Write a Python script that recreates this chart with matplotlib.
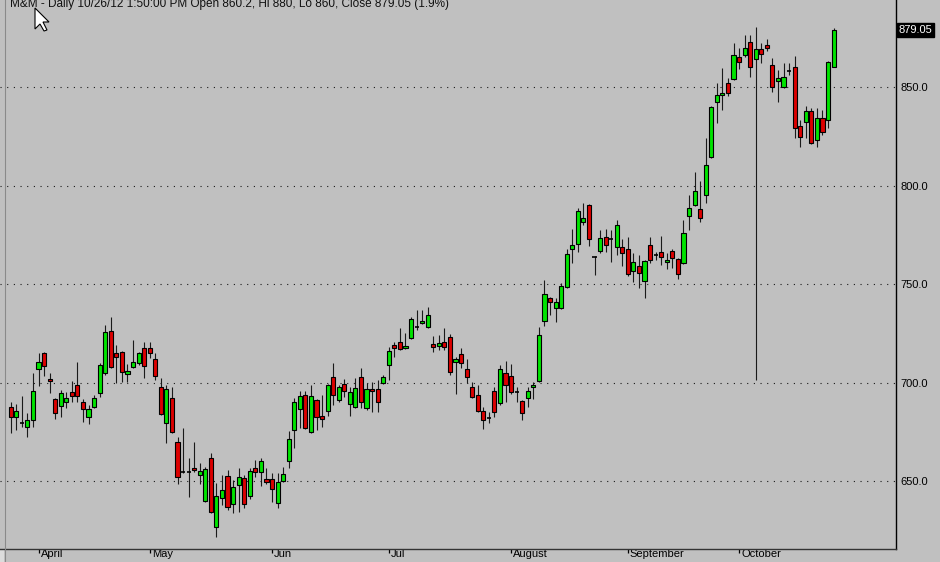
import matplotlib
matplotlib.use('Agg')
import matplotlib.pyplot as plt
import matplotlib.transforms as mtransforms
from matplotlib.patches import Polygon, Rectangle
import numpy as np

# ---------------- data (M&M daily, late Mar - 26 Oct 2012) ----------------
opens = [687.6, 682.5, 679.6, 677.5, 681.0, 706.9, 715.0, 701.8, 691.7, 688.1,
         690.1, 695.2, 698.8, 690.1, 682.5, 687.6, 694.7, 704.9, 726.2, 715.0,
         715.5, 704.4, 707.9, 709.9, 717.6, 717.6, 712.0, 697.8, 679.5, 692.2,
         669.8, 654.7, 654.6, 656.6, 653.1, 639.9, 661.7, 626.7, 641.4, 652.6,
         638.4, 648.0, 651.6, 642.4, 656.6, 654.6, 651.1, 651.1, 638.9, 650.0,
         660.2, 675.9, 686.6, 693.7, 674.9, 691.2, 683.0, 685.6, 702.8, 691.2,
         699.3, 689.1, 687.6, 702.8, 687.1, 696.7, 696.7, 699.8, 708.9, 719.1,
         720.6, 717.6, 722.6, 728.3, 730.2, 728.2, 719.6, 718.6, 720.6, 723.1,
         710.4, 714.5, 706.9, 697.8, 693.7, 685.6, 682.0, 695.7, 689.6, 704.9,
         703.3, 695.3, 690.6, 692.2, 697.8, 700.8, 731.3, 742.9, 737.9, 737.9,
         748.5, 767.8, 770.3, 781.5, 790.2, 763.8, 766.8, 773.9, 772.9, 768.8,
         768.8, 767.8, 756.6, 759.2, 751.6, 769.8, 764.8, 766.3, 761.2, 766.8,
         762.7, 760.7, 784.5, 790.2, 788.1, 795.2, 814.5, 842.4, 846.0, 852.1,
         854.1, 865.3, 866.3, 872.9, 864.2, 869.3, 871.4, 861.2, 853.1, 850.0,
         858.2, 860.2, 830.2, 832.3, 837.9, 823.1, 834.3, 833.3, 860.2]
highs = [690.0, 689.1, 693.2, 684.6, 704.9, 715.0, 715.5, 704.9, 692.2, 696.2,
         695.2, 700.8, 710.4, 691.7, 688.6, 693.7, 709.9, 729.2, 733.3, 719.1,
         716.0, 709.4, 721.6, 715.5, 720.6, 720.6, 715.0, 702.3, 698.8, 697.8,
         672.4, 676.9, 661.7, 669.8, 659.2, 657.1, 664.3, 649.0, 653.1, 655.6,
         650.6, 656.6, 653.1, 656.6, 660.7, 661.7, 656.6, 654.1, 654.1, 657.1,
         675.4, 692.2, 695.7, 695.7, 698.8, 691.7, 693.7, 699.3, 709.9, 698.8,
         701.8, 697.8, 702.3, 707.4, 699.8, 700.3, 701.3, 703.9, 718.1, 720.6,
         727.7, 725.2, 733.3, 736.8, 736.8, 738.4, 723.6, 724.2, 727.7, 724.7,
         713.0, 717.6, 712.0, 700.3, 698.8, 687.6, 685.1, 697.8, 708.9, 711.0,
         709.4, 697.8, 691.0, 697.8, 700.3, 728.2, 752.1, 743.4, 742.9, 750.5,
         767.8, 777.9, 788.6, 791.2, 790.7, 764.2, 777.4, 777.9, 777.4, 782.5,
         772.9, 773.9, 765.8, 764.8, 762.2, 773.9, 766.3, 774.4, 765.8, 767.8,
         763.2, 782.5, 795.2, 806.9, 802.3, 824.1, 840.4, 852.1, 859.7, 854.6,
         872.4, 869.8, 876.4, 876.4, 880.5, 872.4, 874.4, 864.8, 858.7, 862.2,
         862.2, 865.8, 833.3, 840.4, 839.4, 839.4, 838.4, 863.2, 880.0]
lows = [674.4, 675.9, 677.5, 672.4, 677.5, 698.3, 703.3, 694.7, 681.5, 682.5,
        687.1, 690.1, 690.1, 680.0, 679.0, 687.1, 692.7, 703.9, 707.4, 699.8,
        700.3, 700.3, 707.4, 708.9, 702.3, 712.5, 701.3, 683.6, 669.3, 674.4,
        648.5, 654.1, 641.9, 654.6, 648.5, 639.4, 633.8, 621.6, 637.9, 635.3,
        633.8, 634.3, 636.3, 640.9, 652.1, 647.5, 648.5, 639.4, 636.3, 649.5,
        656.6, 666.8, 676.9, 676.4, 674.4, 675.9, 677.5, 683.0, 688.6, 690.1,
        692.7, 683.0, 687.1, 687.1, 686.1, 685.1, 685.1, 699.3, 701.3, 713.0,
        716.6, 717.1, 722.1, 726.7, 729.7, 727.7, 715.5, 716.5, 716.5, 703.9,
        694.2, 707.4, 699.8, 692.2, 685.1, 676.4, 679.5, 682.5, 688.6, 690.1,
        694.2, 690.1, 681.0, 687.6, 691.7, 700.3, 728.7, 734.3, 730.8, 737.4,
        748.0, 760.7, 766.3, 780.0, 769.3, 754.6, 765.8, 766.3, 761.2, 764.8,
        759.2, 754.1, 751.1, 748.0, 742.9, 760.7, 762.2, 759.7, 757.7, 758.2,
        752.6, 760.2, 777.4, 789.6, 781.5, 791.2, 814.0, 831.8, 838.4, 845.5,
        853.6, 859.2, 865.3, 855.1, 701.3, 862.2, 868.3, 847.5, 842.4, 849.5,
        856.1, 824.1, 819.6, 824.1, 821.1, 819.6, 825.7, 829.2, 860.0]
closes = [682.5, 685.6, 679.4, 681.0, 695.7, 710.4, 708.4, 700.8, 684.6, 694.7,
          692.2, 693.2, 693.2, 686.6, 686.6, 692.2, 708.9, 725.7, 707.9, 713.0,
          705.4, 705.9, 710.4, 715.0, 708.4, 715.0, 703.3, 684.1, 696.7, 674.9,
          652.1, 654.5, 654.4, 655.6, 655.1, 656.1, 634.3, 642.4, 645.5, 636.8,
          647.0, 652.1, 638.4, 655.1, 654.6, 660.2, 649.5, 646.0, 649.5, 653.6,
          671.4, 690.1, 693.2, 676.9, 693.2, 682.5, 681.5, 698.8, 693.7, 697.8,
          695.7, 695.2, 697.3, 690.1, 696.7, 695.7, 690.1, 702.8, 716.0, 717.6,
          717.1, 718.6, 732.3, 728.1, 731.3, 734.3, 718.1, 720.1, 718.1, 705.4,
          712.0, 709.9, 702.8, 692.7, 685.6, 681.0, 681.8, 685.1, 706.9, 698.8,
          695.2, 695.1, 684.6, 695.7, 698.8, 724.2, 745.0, 740.9, 740.9, 749.0,
          765.3, 769.8, 787.1, 783.5, 772.9, 763.6, 773.4, 769.8, 772.7, 780.0,
          765.8, 755.1, 761.2, 755.6, 761.7, 762.2, 764.6, 763.7, 762.2, 763.2,
          755.1, 775.9, 788.6, 797.2, 783.5, 810.4, 839.9, 846.0, 847.0, 847.0,
          866.3, 862.7, 869.8, 860.2, 869.3, 866.8, 869.8, 850.0, 854.6, 855.1,
          858.0, 829.2, 824.7, 837.9, 821.6, 834.3, 827.2, 862.7, 879.05]

month_labels = ['April', 'May', 'Jun', 'Jul', 'August', 'September', 'October']
month_start_idx = [5, 25, 47, 68, 90, 111, 131]
price_ticks = [650, 700, 750, 800, 850]
last_price = 879.05
title_text = 'M&M - Daily 10/26/12 1:50:00 PM Open 860.2, Hi 880, Lo 860, Close 879.05 (1.9%)'

# ---------------- style ----------------
BG = '#c0c0c0'
GREEN = '#00e400'
RED = '#dc0000'
FONT = 'Liberation Sans'
W, H = 940, 562

fig = plt.figure(figsize=(W / 100, H / 100), dpi=100, facecolor=BG)
ax_left, ax_right, ax_bottom_px = 0, 896, 549
ax = fig.add_axes([ax_left / W, (H - ax_bottom_px) / H,
                   (ax_right - ax_left) / W, ax_bottom_px / H])
ax.set_facecolor(BG)

o = np.array(opens); h = np.array(highs); l = np.array(lows); c = np.array(closes)
x = np.arange(len(o))

# wicks
ax.vlines(x, l, h, color='#1a1a1a', linewidth=0.8, zorder=2)

doji = np.abs(c - o) < 0.35
up = (c > o) & ~doji
down = (c <= o) & ~doji
bw = 0.74
ax.bar(x[up], (c - o)[up], bottom=o[up], width=bw, color=GREEN,
       edgecolor='black', linewidth=0.8, zorder=3)
ax.bar(x[down], (o - c)[down], bottom=c[down], width=bw, color=RED,
       edgecolor='black', linewidth=0.8, zorder=3)
ax.hlines(o[doji], x[doji] - bw / 2, x[doji] + bw / 2, color='black',
          linewidth=1.2, zorder=3)

# limits
ax.set_xlim((0 - 10.7) / 5.56, (896 - 10.7) / 5.56)
ax.set_ylim(894.2 - 0.5076 * 549, 894.2)

# grid (horizontal dotted)
for p in price_ticks:
    ax.axhline(p, color='#1a1a1a', linewidth=0.8, linestyle=(0, (1, 5.0)), zorder=1)

# spines
for s in ['top', 'left']:
    ax.spines[s].set_visible(False)
ax.spines['right'].set_color('black')
ax.spines['right'].set_linewidth(1.0)
ax.spines['bottom'].set_color('#333333')
ax.spines['bottom'].set_linewidth(1.0)

# y ticks on right
ax.yaxis.tick_right()
ax.set_yticks(price_ticks)
ax.set_yticklabels([f'{p:.1f}' for p in price_ticks], fontsize=8, family=FONT,
                   color='black')
ax.tick_params(axis='y', length=0, pad=3)

# x ticks (month starts)
ax.set_xticks(month_start_idx)
ax.set_xticklabels(month_labels, fontsize=8, family=FONT, color='black', ha='left')
ax.tick_params(axis='x', direction='out', length=3, width=0.9, color='black', pad=-3)
offset = mtransforms.ScaledTranslation(2 / 100, 0, fig.dpi_scale_trans)
for lab in ax.get_xticklabels():
    lab.set_transform(lab.get_transform() + offset)

# last price box
ax.text(1.003, last_price, f'{last_price:.2f}',
        transform=mtransforms.blended_transform_factory(ax.transAxes, ax.transData),
        ha='left', va='center', fontsize=8, family=FONT, color='white',
        bbox=dict(boxstyle='square,pad=0.15', facecolor='black', edgecolor='black'),
        clip_on=False, zorder=5)

# title text
fig.text(10 / W, 1 - 7.3 / H, title_text, fontsize=8.5, family=FONT,
         color='#111111', ha='left', va='baseline')

# left light strip
fig.add_artist(Rectangle((0, 0), 4 / W, 1, transform=fig.transFigure,
                         facecolor='#dcdcdc', edgecolor='none', zorder=0))
fig.add_artist(plt.Line2D([4.5 / W, 4.5 / W], [0, 1], transform=fig.transFigure,
                          color='#8a8a8a', linewidth=0.8))

# mouse cursor
tip = (35, 8)
pts = [(0, 0), (0, 21), (5, 16), (9, 23), (12, 22), (8, 14), (14, 14)]
poly = [((tip[0] + px) / W, 1 - (tip[1] + py) / H) for px, py in pts]
fig.add_artist(Polygon(poly, closed=True, transform=fig.transFigure,
                       facecolor='white', edgecolor='black', linewidth=0.8, zorder=10))

fig.savefig('out.png', dpi=100, facecolor=BG)
